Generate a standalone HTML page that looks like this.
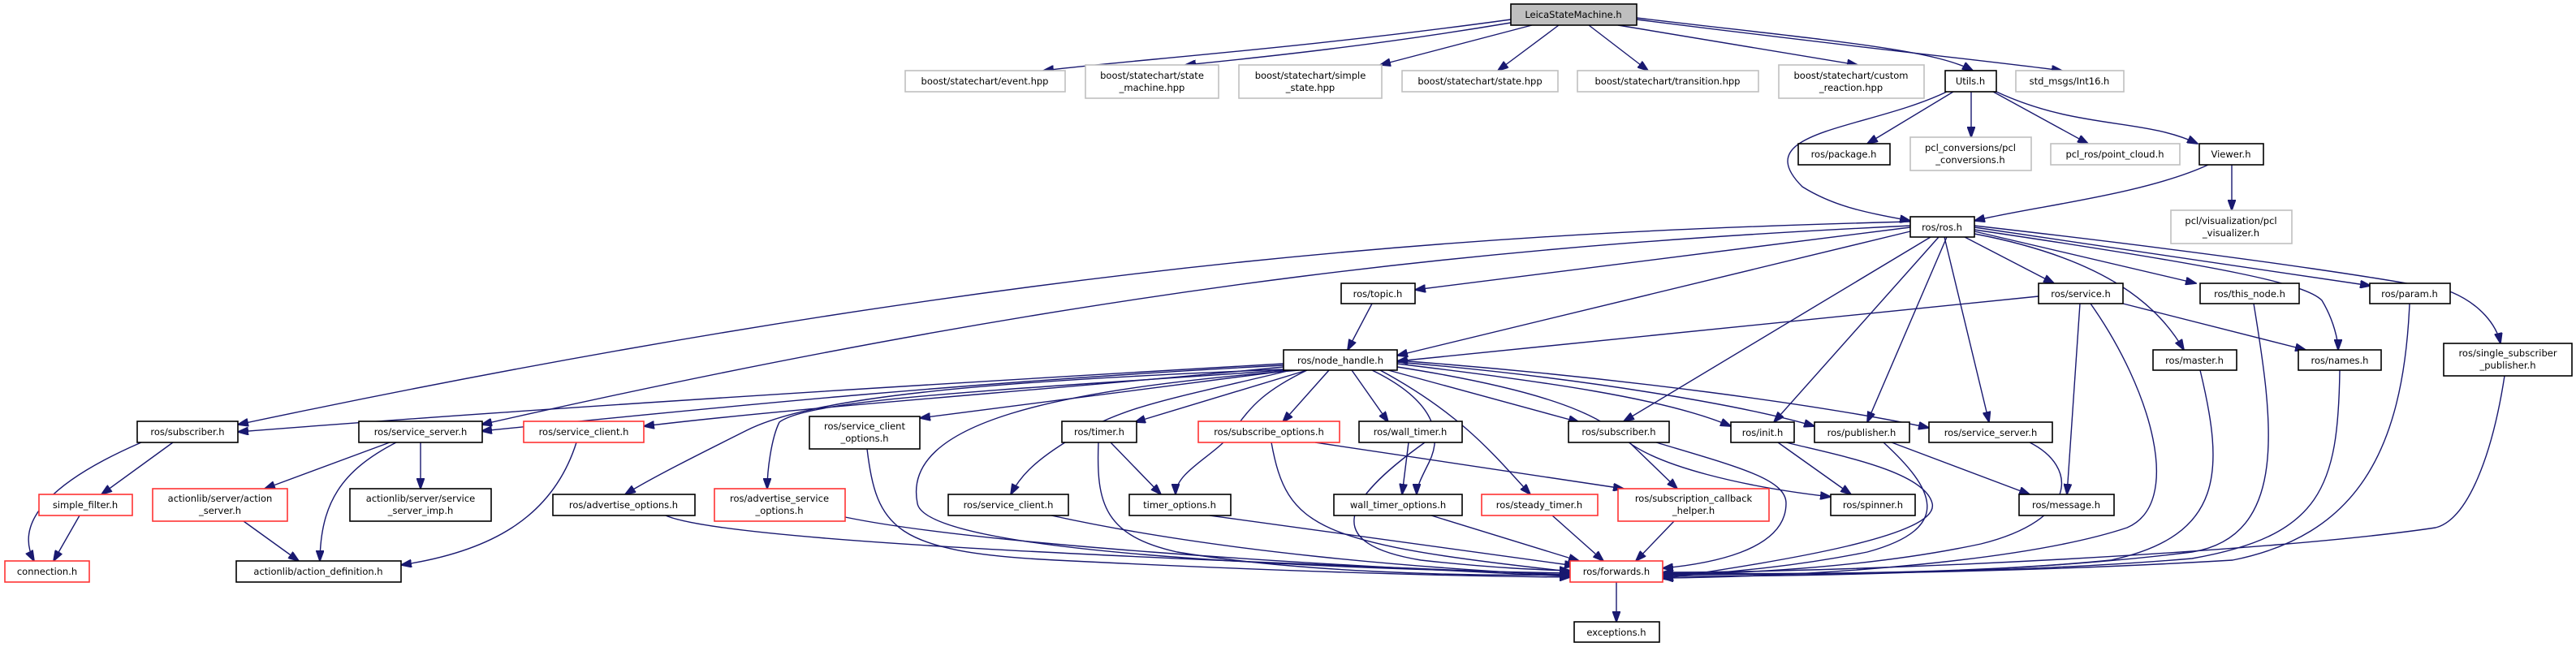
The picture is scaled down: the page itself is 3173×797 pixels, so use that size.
<!DOCTYPE html>
<html><head><meta charset="utf-8"><style>
html,body{margin:0;padding:0;background:#fff;}
svg{display:block;}
text{font-family:"DejaVu Sans","Liberation Sans",sans-serif;font-size:11.5px;fill:#000;text-anchor:middle;}
.b{fill:#fff;stroke:#000;stroke-width:1.6}
.g{fill:#fff;stroke:#bfbfbf;stroke-width:1.6}
.r{fill:#fff;stroke:#ff3333;stroke-width:1.6}
.e{fill:none;stroke:#191970;stroke-width:1.4}
</style></head><body>
<svg width="3173" height="797" viewBox="0 0 3173 797" xmlns="http://www.w3.org/2000/svg">
<defs><marker id="a" markerUnits="userSpaceOnUse" markerWidth="14" markerHeight="10" refX="13" refY="5" orient="auto"><path d="M0,0 L14,5 L0,10 z" fill="#191970" stroke="#191970"/></marker></defs>
<g marker-end="url(#a)">
<path class="e" d="M1861,24 C1600,60 1380,75 1285,87"/>
<path class="e" d="M1861,28 C1700,55 1560,70 1460,80"/>
<path class="e" d="M1887,31 L1700,80"/>
<path class="e" d="M1920,31 L1845,87"/>
<path class="e" d="M1957,31 L2030,87"/>
<path class="e" d="M1993,31 L2288,80"/>
<path class="e" d="M2016,22 C2250,50 2380,60 2430,87"/>
<path class="e" d="M2016,24 C2300,60 2450,75 2540,87"/>
<path class="e" d="M2406,113 L2300,177"/>
<path class="e" d="M2428,113 L2428,169"/>
<path class="e" d="M2455,113 L2572,177"/>
<path class="e" d="M2459,113 C2560,160 2640,145 2707,177"/>
<path class="e" d="M2398,113 C2300,160 2150,160 2220,230 C2260,255 2300,262 2353,272"/>
<path class="e" d="M2720,203 C2640,240 2500,255 2432,272"/>
<path class="e" d="M2749,203 L2749,259"/>
<path class="e" d="M2353,273 C1900,285 1300,310 293,523"/>
<path class="e" d="M2353,278 C1900,300 1400,340 593,523"/>
<path class="e" d="M2353,280 L1743,357"/>
<path class="e" d="M2353,285 L1721,438"/>
<path class="e" d="M2420,292 L2530,349"/>
<path class="e" d="M2432,285 L2705,349"/>
<path class="e" d="M2432,280 L2920,352"/>
<path class="e" d="M2432,278 C2800,320 2980,350 3020,360 C3055,375 3075,400 3080,423"/>
<path class="e" d="M2432,288 C2600,320 2660,380 2690,431"/>
<path class="e" d="M2432,283 C2750,330 2840,350 2860,370 C2875,395 2880,420 2880,431"/>
<path class="e" d="M2378,292 L2000,519"/>
<path class="e" d="M2388,292 L2185,520"/>
<path class="e" d="M2398,292 L2300,520"/>
<path class="e" d="M2395,292 L2450,520"/>
<path class="e" d="M1690,374 L1660,431"/>
<path class="e" d="M2511,365 L1721,445"/>
<path class="e" d="M2615,374 L2840,431"/>
<path class="e" d="M2562,374 L2546,609"/>
<path class="e" d="M2575,374 C2650,480 2690,620 2620,650 C2500,690 2250,710 2048,712"/>
<path class="e" d="M2776,374 C2800,520 2820,660 2700,680 C2500,705 2250,710 2048,710"/>
<path class="e" d="M2968,374 C2960,560 2900,660 2750,690 C2500,705 2250,708 2048,708"/>
<path class="e" d="M2882,456 C2880,600 2860,660 2700,688 C2500,705 2250,708 2048,706"/>
<path class="e" d="M2710,456 C2740,580 2740,660 2600,690 C2450,705 2250,708 2048,707"/>
<path class="e" d="M3085,463 C3070,560 3040,640 3000,650 C2800,680 2300,705 2048,705"/>
<path class="e" d="M2500,545 C2560,575 2560,640 2440,670 C2300,700 2150,705 2048,709"/>
<path class="e" d="M2330,545 L2500,609"/>
<path class="e" d="M2320,545 C2380,600 2410,650 2300,680 C2200,700 2120,705 2048,711"/>
<path class="e" d="M2190,545 L2280,609"/>
<path class="e" d="M2200,545 C2260,560 2370,580 2380,620 C2390,660 2200,690 2048,713"/>
<path class="e" d="M2007,545 L2066,602"/>
<path class="e" d="M2040,545 C2140,575 2200,590 2200,620 C2200,680 2100,695 2048,700"/>
<path class="e" d="M1581,448 C1200,470 700,500 293,532"/>
<path class="e" d="M1581,450 C1200,470 900,500 593,531"/>
<path class="e" d="M1581,452 C1300,480 1000,500 793,525"/>
<path class="e" d="M1590,456 C1400,480 1250,500 1133,515"/>
<path class="e" d="M1581,455 C1200,470 1000,490 920,530 C860,560 800,590 770,609"/>
<path class="e" d="M1581,456 C1250,480 1000,490 960,520 C950,540 945,580 945,602"/>
<path class="e" d="M1590,456 C1450,490 1380,500 1320,540 C1270,570 1255,590 1245,609"/>
<path class="e" d="M1610,456 L1398,520"/>
<path class="e" d="M1610,456 C1560,480 1540,500 1520,530 C1500,560 1448,580 1448,609"/>
<path class="e" d="M1637,456 L1580,520"/>
<path class="e" d="M1665,456 L1710,520"/>
<path class="e" d="M1690,456 C1760,490 1780,530 1760,570 C1750,590 1745,600 1745,609"/>
<path class="e" d="M1700,456 C1800,510 1840,560 1885,609"/>
<path class="e" d="M1710,456 L1945,520"/>
<path class="e" d="M1721,448 C1900,470 2050,490 2132,525"/>
<path class="e" d="M1721,446 C1950,465 2150,500 2235,525"/>
<path class="e" d="M1721,444 C2000,465 2250,500 2376,527"/>
<path class="e" d="M1721,452 C1900,480 1970,510 2000,540 C2040,575 2150,600 2255,612"/>
<path class="e" d="M1600,456 C1300,480 1110,520 1130,620 C1140,680 1600,700 1934,706"/>
<path class="e" d="M174,545 C70,590 15,640 42,691"/>
<path class="e" d="M213,545 L125,609"/>
<path class="e" d="M98,635 L66,691"/>
<path class="e" d="M480,545 L326,602"/>
<path class="e" d="M488,545 C420,580 395,620 394,691"/>
<path class="e" d="M518,545 L518,602"/>
<path class="e" d="M300,642 L368,691"/>
<path class="e" d="M710,545 C680,640 600,680 494,696"/>
<path class="e" d="M820,635 C900,670 1500,690 1934,708"/>
<path class="e" d="M1041,637 C1200,670 1600,695 1934,710"/>
<path class="e" d="M1068,553 C1080,650 1100,680 1300,690 C1600,705 1800,710 1934,711"/>
<path class="e" d="M1295,635 C1500,680 1750,700 1934,709"/>
<path class="e" d="M1353,545 C1350,620 1360,660 1450,680 C1600,705 1800,710 1934,708"/>
<path class="e" d="M1368,545 L1430,609"/>
<path class="e" d="M1490,635 L1940,697"/>
<path class="e" d="M1566,545 C1585,650 1620,670 1934,704"/>
<path class="e" d="M1620,545 L2000,602"/>
<path class="e" d="M1755,545 C1650,620 1630,670 1750,690 C1840,700 1900,702 1934,703"/>
<path class="e" d="M1735,545 L1727,609"/>
<path class="e" d="M1763,635 L1945,691"/>
<path class="e" d="M1912,635 L1975,691"/>
<path class="e" d="M2062,642 L2015,691"/>
<path class="e" d="M1991,717 L1991,766"/>
</g>
<rect x="1861" y="5" width="155" height="26" fill="#bfbfbf" stroke="#000" stroke-width="1.6"/><text x="1938" y="22">LeicaStateMachine.h</text>
<rect class="g" x="1115" y="87" width="197" height="26"/><text x="1213" y="104">boost/statechart/event.hpp</text>
<rect class="g" x="1337" y="80" width="164" height="41"/><text x="1419" y="97">boost/statechart/state</text><text x="1419" y="112">_machine.hpp</text>
<rect class="g" x="1526" y="80" width="176" height="41"/><text x="1614" y="97">boost/statechart/simple</text><text x="1614" y="112">_state.hpp</text>
<rect class="g" x="1727" y="87" width="192" height="26"/><text x="1823" y="104">boost/statechart/state.hpp</text>
<rect class="g" x="1943" y="87" width="223" height="26"/><text x="2054" y="104">boost/statechart/transition.hpp</text>
<rect class="g" x="2191" y="80" width="179" height="41"/><text x="2280" y="97">boost/statechart/custom</text><text x="2280" y="112">_reaction.hpp</text>
<rect class="b" x="2396" y="87" width="63" height="26"/><text x="2427" y="104">Utils.h</text>
<rect class="g" x="2483" y="87" width="133" height="26"/><text x="2549" y="104">std_msgs/Int16.h</text>
<rect class="b" x="2215" y="177" width="113" height="26"/><text x="2271" y="194">ros/package.h</text>
<rect class="g" x="2353" y="169" width="149" height="41"/><text x="2427" y="186">pcl_conversions/pcl</text><text x="2427" y="201">_conversions.h</text>
<rect class="g" x="2526" y="177" width="159" height="26"/><text x="2605" y="194">pcl_ros/point_cloud.h</text>
<rect class="b" x="2709" y="177" width="79" height="26"/><text x="2748" y="194">Viewer.h</text>
<rect class="g" x="2674" y="259" width="149" height="41"/><text x="2748" y="276">pcl/visualization/pcl</text><text x="2748" y="291">_visualizer.h</text>
<rect class="b" x="2353" y="267" width="79" height="25"/><text x="2392" y="284">ros/ros.h</text>
<rect class="b" x="1652" y="349" width="91" height="25"/><text x="1697" y="366">ros/topic.h</text>
<rect class="b" x="2511" y="349" width="104" height="25"/><text x="2563" y="366">ros/service.h</text>
<rect class="b" x="2710" y="349" width="122" height="25"/><text x="2771" y="366">ros/this_node.h</text>
<rect class="b" x="2919" y="349" width="99" height="25"/><text x="2968" y="366">ros/param.h</text>
<rect class="b" x="3010" y="423" width="158" height="40"/><text x="3089" y="439">ros/single_subscriber</text><text x="3089" y="454">_publisher.h</text>
<rect class="b" x="1581" y="431" width="140" height="25"/><text x="1651" y="448">ros/node_handle.h</text>
<rect class="b" x="2652" y="431" width="103" height="25"/><text x="2703" y="448">ros/master.h</text>
<rect class="b" x="2831" y="431" width="102" height="25"/><text x="2882" y="448">ros/names.h</text>
<rect class="b" x="169" y="519" width="124" height="26"/><text x="231" y="536">ros/subscriber.h</text>
<rect class="b" x="442" y="519" width="152" height="26"/><text x="518" y="536">ros/service_server.h</text>
<rect class="r" x="645" y="519" width="148" height="26"/><text x="719" y="536">ros/service_client.h</text>
<rect class="b" x="997" y="513" width="136" height="40"/><text x="1065" y="529">ros/service_client</text><text x="1065" y="544">_options.h</text>
<rect class="b" x="1308" y="519" width="92" height="26"/><text x="1354" y="536">ros/timer.h</text>
<rect class="r" x="1476" y="519" width="174" height="26"/><text x="1563" y="536">ros/subscribe_options.h</text>
<rect class="b" x="1674" y="519" width="127" height="26"/><text x="1737" y="536">ros/wall_timer.h</text>
<rect class="b" x="1932" y="519" width="124" height="26"/><text x="1994" y="536">ros/subscriber.h</text>
<rect class="b" x="2132" y="520" width="78" height="25"/><text x="2171" y="537">ros/init.h</text>
<rect class="b" x="2235" y="520" width="117" height="25"/><text x="2293" y="537">ros/publisher.h</text>
<rect class="b" x="2376" y="520" width="152" height="25"/><text x="2452" y="537">ros/service_server.h</text>
<rect class="r" x="48" y="609" width="115" height="26"/><text x="105" y="626">simple_filter.h</text>
<rect class="r" x="188" y="602" width="166" height="40"/><text x="271" y="618">actionlib/server/action</text><text x="271" y="633">_server.h</text>
<rect class="b" x="431" y="602" width="174" height="40"/><text x="518" y="618">actionlib/server/service</text><text x="518" y="633">_server_imp.h</text>
<rect class="b" x="681" y="609" width="175" height="26"/><text x="768" y="626">ros/advertise_options.h</text>
<rect class="r" x="880" y="602" width="161" height="40"/><text x="960" y="618">ros/advertise_service</text><text x="960" y="633">_options.h</text>
<rect class="b" x="1168" y="609" width="148" height="26"/><text x="1242" y="626">ros/service_client.h</text>
<rect class="b" x="1391" y="609" width="125" height="26"/><text x="1453" y="626">timer_options.h</text>
<rect class="b" x="1643" y="609" width="158" height="26"/><text x="1722" y="626">wall_timer_options.h</text>
<rect class="r" x="1825" y="609" width="143" height="26"/><text x="1896" y="626">ros/steady_timer.h</text>
<rect class="r" x="1993" y="602" width="186" height="40"/><text x="2086" y="618">ros/subscription_callback</text><text x="2086" y="633">_helper.h</text>
<rect class="b" x="2255" y="609" width="104" height="26"/><text x="2307" y="626">ros/spinner.h</text>
<rect class="b" x="2487" y="609" width="117" height="26"/><text x="2545" y="626">ros/message.h</text>
<rect class="r" x="6" y="691" width="104" height="26"/><text x="58" y="708">connection.h</text>
<rect class="b" x="291" y="691" width="203" height="26"/><text x="392" y="708">actionlib/action_definition.h</text>
<rect class="r" x="1934" y="691" width="114" height="26"/><text x="1991" y="708">ros/forwards.h</text>
<rect class="b" x="1939" y="766" width="105" height="25"/><text x="1991" y="783">exceptions.h</text>
</svg>
</body></html>
